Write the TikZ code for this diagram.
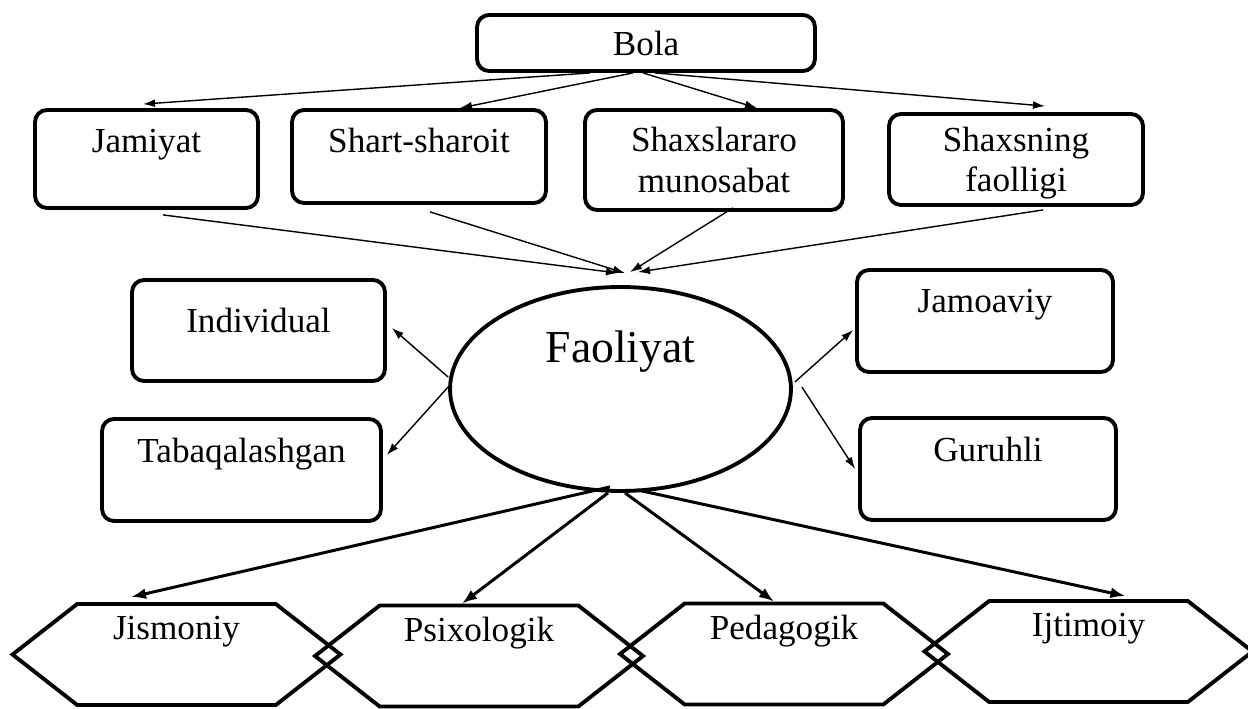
\documentclass[tikz,border=0pt]{standalone}
\usepackage{fontspec}
\setmainfont{Liberation Serif}
\usetikzlibrary{arrows.meta,shapes.geometric,shapes.symbols}

\begin{document}
\begin{tikzpicture}[
  x=0.02cm, y=-0.02cm,
  every node/.style = {draw, line width=2.2pt, inner sep=0pt, font=\fontsize{20}{23}\selectfont},
  rbox/.style = {rectangle, rounded corners=0.24cm, align=center},
  topline/.style = {text height=0.5cm, text depth=0.75cm},
  hexbox/.style = {signal, signal to=east and west, signal pointer angle=76,
    minimum width=6.56cm, minimum height=2.02cm, text height=0.5cm, text depth=1.1cm},
  thin arrow/.style = {-{Latex[length=0.24cm, width=0.16cm]}, line width=0.8pt},
  thick arrow/.style = {-{Latex[length=0.3cm, width=0.22cm]}, line width=1.7pt}
]
  \useasboundingbox (0,0) rectangle (1248,709);

  \node[rbox, minimum width=6.76cm, minimum height=1.12cm] (bola) at (646,43) {Bola};

  \node[rbox, topline, minimum width=4.46cm, minimum height=1.96cm] (jamiyat) at (146.5,159) {Jamiyat};
  \node[rbox, topline, text depth=0.64cm, minimum width=5.08cm, minimum height=1.86cm] (sharoit) at (419,156.5) {Shart-sharoit};
  \node[rbox, minimum width=5.16cm, minimum height=2cm] (munosabat) at (714,160) {Shaxslararo\\munosabat};
  \node[rbox, text depth=0pt, minimum width=5.08cm, minimum height=1.82cm] (faollik) at (1016,159.5) {Shaxsning\\faolligi};

  \node[ellipse, minimum width=6.82cm, minimum height=4.08cm, font=\fontsize{26}{30}\selectfont,
    text height=0.6cm, text depth=1.68cm] (faoliyat) at (620.5,389) {Faoliyat};

  \node[rbox, topline, text depth=0.4cm, minimum width=5.06cm, minimum height=2.02cm] (individual) at (258.5,330.5) {Individual};
  \node[rbox, topline, text depth=0.82cm, minimum width=5.58cm, minimum height=2.04cm] (tabaqa) at (241.5,470) {Tabaqalashgan};
  \node[rbox, topline, text depth=0.82cm, minimum width=5.12cm, minimum height=2.04cm] (jamoaviy) at (985,321) {Jamoaviy};
  \node[rbox, topline, text depth=0.82cm, minimum width=5.12cm, minimum height=2.04cm] (guruhli) at (988,469) {Guruhli};

  \node[hexbox] (jismoniy) at (176.5,654.5) {Jismoniy};
  \node[hexbox] (psixologik) at (479,656) {Psixologik};
  \node[hexbox] (pedagogik) at (784,654) {Pedagogik};
  \node[hexbox] (ijtimoiy) at (1088.5,651.5) {Ijtimoiy};

  \draw[thin arrow] ([xshift=-1.12cm]bola.south) -- ([xshift=-0.07cm, yshift=0.08cm]jamiyat.north);
  \draw[thin arrow] ([xshift=-0.26cm]bola.south) -- ([xshift=0.82cm]sharoit.north);
  \draw[thin arrow] ([xshift=-0.06cm]bola.south) -- ([xshift=0.86cm]munosabat.north);
  \draw[thin arrow] ([xshift=0.18cm]bola.south) -- ([xshift=0.58cm, yshift=0.12cm]faollik.north);

  \draw[thin arrow] ([xshift=0.33cm, yshift=-0.1cm]jamiyat.south) -- ([xshift=-0.05cm, yshift=0.24cm]faoliyat.north);
  \draw[thin arrow] ([xshift=0.22cm, yshift=-0.14cm]sharoit.south) -- ([xshift=0.09cm, yshift=0.24cm]faoliyat.north);
  \draw[thin arrow] ([xshift=0.38cm, yshift=0.08cm]munosabat.south) -- ([xshift=0.19cm, yshift=0.26cm]faoliyat.north);
  \draw[thin arrow] ([xshift=0.54cm, yshift=-0.06cm]faollik.south) -- ([xshift=0.35cm, yshift=0.26cm]faoliyat.north);

  \draw[thin arrow] ([yshift=0.24cm]faoliyat.west) -- ([xshift=0.1cm, yshift=0.05cm]individual.east);
  \draw[thin arrow] ([yshift=0.04cm]faoliyat.west) -- ([xshift=0.08cm, yshift=0.3cm]tabaqa.east);
  \draw[thin arrow] ([xshift=0.04cm, yshift=0.14cm]faoliyat.east) -- ([xshift=-0.04cm, yshift=-0.18cm]jamoaviy.west);
  \draw[thin arrow] ([xshift=0.18cm, yshift=0.04cm]faoliyat.east) -- ([xshift=-0.06cm]guruhli.west);

  \draw[thick arrow] ([xshift=-0.21cm, yshift=0.12cm]faoliyat.south) -- ([xshift=-0.91cm, yshift=0.1cm]jismoniy.north);
  \draw[thick arrow] ([xshift=-0.25cm]faoliyat.south) -- ([xshift=-0.34cm]psixologik.north);
  \draw[thick arrow] ([xshift=0.09cm]faoliyat.south) -- ([xshift=-0.2cm]pedagogik.north);
  \draw[thick arrow] ([xshift=0.33cm, yshift=0.06cm]faoliyat.south) -- ([xshift=0.74cm, yshift=0.06cm]ijtimoiy.north);
\end{tikzpicture}
\end{document}
